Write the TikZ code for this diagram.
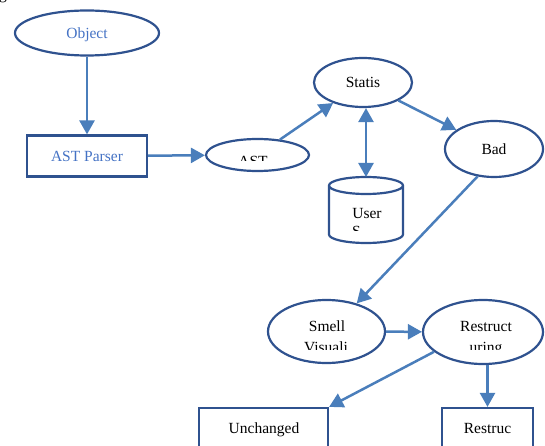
\documentclass[tikz,border=0pt]{standalone}
\usepackage{fontspec}
\setmainfont{Liberation Serif}
\usetikzlibrary{arrows.meta,shapes.geometric}

\definecolor{edgeblue}{HTML}{2F528F}
\definecolor{arrowblue}{HTML}{4A7EBB}
\definecolor{textblue}{HTML}{4472C4}

\begin{document}
\begin{tikzpicture}[x=1pt, y=-1pt,
    font=\fontsize{15.5}{18}\selectfont,
    oval/.style={ellipse, draw=edgeblue, line width=2.2pt, inner sep=0pt},
    box/.style={rectangle, draw=edgeblue, line width=2.2pt, inner sep=0pt},
    flow/.style={draw=arrowblue, line width=2.5pt, -{Triangle[length=14pt,width=15pt]}},
    txt/.style={inner sep=0pt, anchor=base}]

    % page frame, everything outside is cut off
    \useasboundingbox (0,0) rectangle (545,446);
    \clip (0,0) rectangle (545,446);

    % bit of the caption above the figure
    \node[txt] (capg) at (3,-0.5) {g};

    % upper part
    \node[oval, minimum width=144pt, minimum height=45pt] (obj) at (87,33) {};
    \node[txt, text=textblue] (obj-l1) at (87,39) {Object};
    \node[box, minimum width=120pt, minimum height=41pt] (parser) at (87,156) {};
    \node[txt, text=textblue] (parser-l1) at (87,162) {AST Parser};
    \node[oval, minimum width=103pt, minimum height=32pt] (ast) at (257.5,155) {};
    \node[oval, minimum width=98pt, minimum height=49pt] (statis) at (363,82.5) {Statis};
    \node[oval, minimum width=98pt, minimum height=56pt] (bad) at (494,149) {Bad};

    % data store drawn by hand round an empty node
    \node[minimum width=74pt, minimum height=66pt, inner sep=0pt, outer sep=0pt] (user) at (366,210) {};
    \draw[edgeblue, line width=2.2pt]
        ([yshift=-8.5pt]user.north) ellipse [x radius=37pt, y radius=8.5pt]
        ([yshift=-8.5pt]user.north west) -- ([yshift=8.5pt]user.south west)
        arc [start angle=180, end angle=360, x radius=37pt, y radius=8.5pt]
        -- ([yshift=-8.5pt]user.north east);

    % lower part
    \node[oval, minimum width=117pt, minimum height=63pt] (smell) at (326.5,331.5) {};
    \node[oval, minimum width=120pt, minimum height=64pt] (restr) at (483,332) {};
    \node[box, minimum width=129pt, minimum height=44pt] (unch) at (263.5,430) {};
    \node[txt] (unch-l1) at (264,433.5) {Unchanged};
    \node[box, minimum width=91pt, minimum height=44pt] (rbox) at (487.5,430) {};
    \node[txt] (rbox-l1) at (487.5,433.5) {Restruc};

    % first lines of the two-line texts
    \node[txt] (user-l1) at (367,218) {User};
    \node[txt] (smell-l1) at (327,331) {Smell};
    \node[txt] (restr-l1) at (486,331) {Restruct};

    % texts cut off by their text boxes
    \begin{scope}
        \clip (205,140) rectangle (310,161);
        \node[txt] (ast-l1) at (253,166.5) {AST};
    \end{scope}
    \begin{scope}
        \clip (330,195) rectangle (402,230);
        \node[txt, anchor=base west] (user-l2) at (352,236.5) {S};
    \end{scope}
    \begin{scope}
        \clip (270,335) rectangle (542,349);
        \node[txt] (smell-l2) at (326,352.5) {Visuali};
        \node[txt] (restr-l2) at (486,352.5) {uring};
    \end{scope}

    % connectors
    \draw[flow] (obj) -- (parser);
    \draw[flow] (parser) -- (ast);
    \draw[flow] (ast) -- (statis);
    \draw[flow, {Triangle[length=14pt,width=15pt]}-{Triangle[length=14pt,width=15pt]}]
        (user.north) -- (user.north |- statis.south);
    \draw[flow] (statis) -- (bad);
    \draw[flow] (bad.239) -- (smell.43);
    \draw[flow] (smell) -- (restr);
    \draw[flow] (restr.202) -- (unch.north east);
    \draw[flow] (restr.south -| rbox.north) -- (rbox.north);
\end{tikzpicture}
\end{document}
